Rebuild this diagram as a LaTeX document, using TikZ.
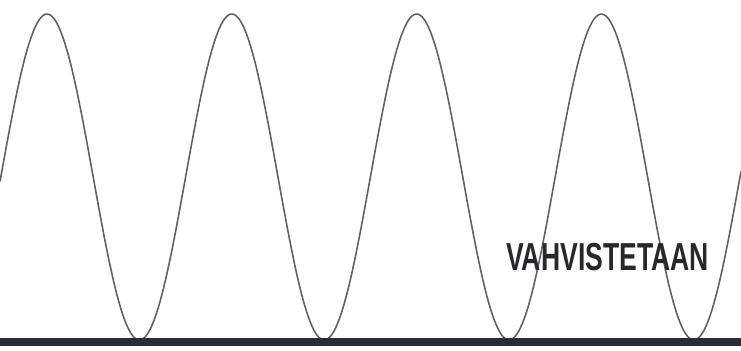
\documentclass[tikz,border=0pt]{standalone}
\usepackage{fontspec}
\setmainfont{Liberation Sans}
\begin{document}
\begin{tikzpicture}[x=0.01cm, y=-0.01cm]
\useasboundingbox (0,0) rectangle (741,350);
% wave: period about 184.8 px, top at 14, bottom on the ground line
\draw[black!62, line width=0.45pt, domain=0:741, samples=400] plot (\x,{177-163*sin(1.94805*(\x-0.8))});
% ground line
\draw[draw={rgb,255:red,40;green,44;blue,56}, line width=2.1pt] (0,342) -- (741,342);
% label
\node[inner sep=0pt, xscale=0.68, text={rgb,255:red,40;green,40;blue,44}] (label) at (607.5,257.5) {\fontsize{11.1}{13}\selectfont\bfseries VAHVISTETAAN};
\end{tikzpicture}
\end{document}
